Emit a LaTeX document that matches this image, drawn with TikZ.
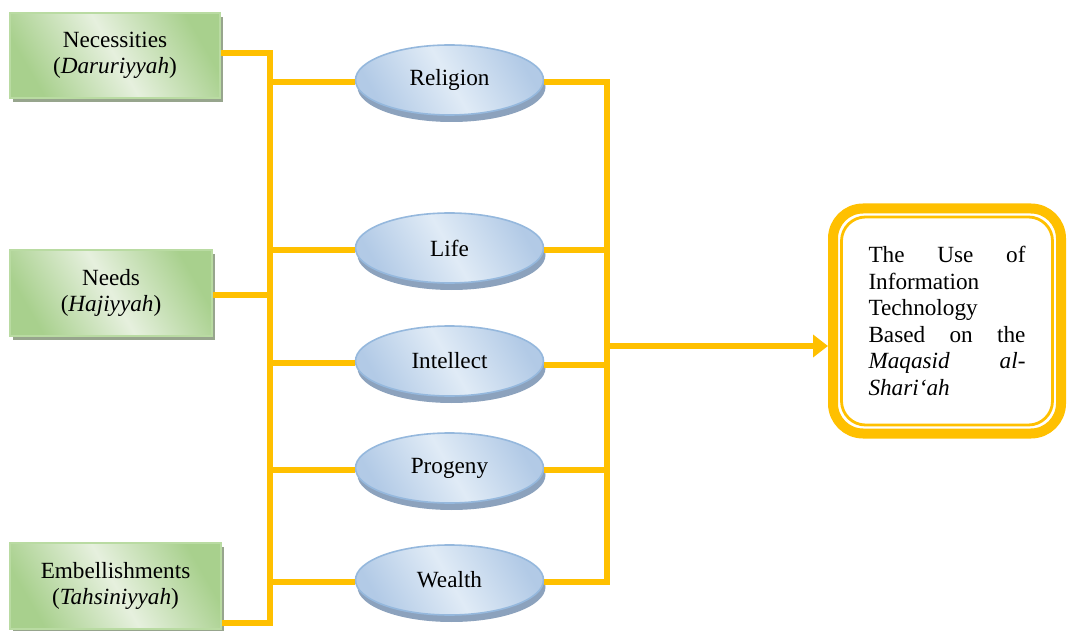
\documentclass[tikz,border=0pt]{standalone}
\usepackage{fontspec}
\setmainfont{Liberation Serif}
\usetikzlibrary{positioning,shapes.geometric,shadows,arrows.meta}
\definecolor{linkorange}{HTML}{FFC000}
\definecolor{greendark}{HTML}{A8D08D}
\definecolor{greenlight}{HTML}{E6F0DE}
\definecolor{greenborder}{HTML}{B9DBA2}
\definecolor{greenshadow}{HTML}{97A58D}
\definecolor{bluedark}{HTML}{B2CAE6}
\definecolor{bluelight}{HTML}{E0EBF6}
\definecolor{blueborder}{HTML}{95B8DD}
\definecolor{blueshadow}{HTML}{8CA2BD}
\newcommand{\spreadline}[1]{\makebox[78.5pt][l]{#1}}

\begin{document}
\begin{tikzpicture}[
x=0.5pt, y=-0.5pt,
font=\fontsize{11.6}{13.3}\selectfont,
levelbox/.style={
  draw=greenborder,
  line width=0.8pt,
  align=center,
  inner sep=0pt,
  top color=greendark, bottom color=greendark, middle color=greenlight,
  shading angle=-60,
  drop shadow={shadow xshift=1.6pt, shadow yshift=-2pt, fill=greenshadow, opacity=1}
  },
aspect/.style={
  draw=blueborder,
  line width=0.8pt,
  ellipse,
  inner sep=0pt,
  minimum width=94pt,
  minimum height=35pt,
  top color=bluedark, bottom color=bluedark, middle color=bluelight,
  shading angle=-60,
  drop shadow={shadow xshift=1pt, shadow yshift=-3.5pt, fill=blueshadow, opacity=1}
  },
goalbox/.style={
  draw=linkorange,
  line width=5pt,
  rounded corners=15pt,
  minimum width=114pt,
  minimum height=112.5pt,
  text width=78.5pt,
  align=left,
  inner sep=0pt
  },
link/.style={draw=linkorange, line width=3pt}
]
\useasboundingbox (0,0) rectangle (1067,631);

% levels of the maqasid
\node[levelbox, minimum width=105pt, minimum height=42.5pt] (nec) at (115,55.5)
  {Necessities\\(\textit{Daruriyyah})};
\node[levelbox, minimum width=101pt, minimum height=43pt] (needs) at (111,293)
  {Needs\\(\textit{Hajiyyah})};
\node[levelbox, minimum width=105.5pt, minimum height=43pt] (emb) at (115.5,586)
  {Embellishments\\(\textit{Tahsiniyyah})};

% buses
\coordinate (lbot) at (270,623);
\coordinate (rbot) at (607,582);
\coordinate (rmid) at (607,346);

\draw[link] (nec.east |- 0,53) -| (lbot) -- (lbot -| emb.east);
\draw[link] (needs.east |- 0,295) -- (270,295);

% the five aspects
\foreach \Name/\Text/\Ypos in {rel/Religion/82, life/Life/250, intel/Intellect/363, prog/Progeny/470, wealth/Wealth/582}
{
  \node[aspect] (\Name) at (449.5,\Ypos-2) {\Text};
  \draw[link] (\Name.west |- 0,\Ypos) -- (270,\Ypos);
}
\draw[link] (rel.east |- 0,82) -| (rbot) -- (rbot -| wealth.east);
\foreach \Name/\Ypos in {life/250, intel/365, prog/470}
  \draw[link] (\Name.east |- 0,\Ypos) -- (607,\Ypos);

% goal
\node[goalbox] (goal) at (947,321)
  {\spreadline{The\hfill Use\hfill of}\\
   Information\\
   Technology\\
   \spreadline{Based\hfill on\hfill the}\\
   \spreadline{\textit{Maqasid}\hfill\textit{al-}}\\
   \textit{Shari‘ah}};
\draw[draw=linkorange, line width=1.4pt, rounded corners=12pt]
  ([shift={(6.75pt,-6.75pt)}]goal.north west) rectangle ([shift={(-6.75pt,6.75pt)}]goal.south east);
\draw[link, -{Triangle[length=7.5pt, width=11pt]}] (rmid) -- (rmid -| goal.west);
\end{tikzpicture}
\end{document}
